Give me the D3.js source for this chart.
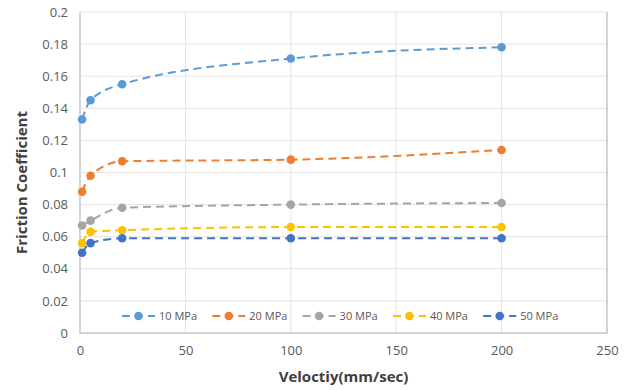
<!DOCTYPE html>
<html><head><meta charset="utf-8">
<script src="https://cdn.jsdelivr.net/npm/d3@7"></script>
<style>body{margin:0;background:#fff}svg{display:block}text{font-family:"Open Sans",Calibri,Arial,sans-serif}</style>
</head><body><svg id="c" width="634" height="390"></svg>
<script>
const velocities = [1, 5, 20, 100, 200];
const seriesNames = ["10 MPa", "20 MPa", "30 MPa", "40 MPa", "50 MPa"];
const s10 = [0.133, 0.145, 0.155, 0.171, 0.178];
const s20 = [0.088, 0.098, 0.107, 0.108, 0.114];
const s30 = [0.067, 0.070, 0.078, 0.080, 0.081];
const s40 = [0.056, 0.063, 0.064, 0.066, 0.066];
const s50 = [0.050, 0.056, 0.059, 0.059, 0.059];
const colors = ["#5B9BD5", "#ED7D31", "#A5A5A5", "#FFC000", "#4472C4"];
const xTicks = [0, 50, 100, 150, 200, 250];
const yTicks = [0, 0.02, 0.04, 0.06, 0.08, 0.1, 0.12, 0.14, 0.16, 0.18, 0.2];
const xTitle = "Veloctiy(mm/sec)";
const yTitle = "Friction Coefficient";

const allSeries = [s10, s20, s30, s40, s50];
const svg = d3.select("#c");
const L = 80, R = 607, T = 12, B = 333;
const x = d3.scaleLinear().domain([0, 250]).range([L, R]);
const y = d3.scaleLinear().domain([0, 0.2]).range([B, T]);

// gridlines
svg.append("g").selectAll("line").data(yTicks).join("line")
  .attr("x1", L).attr("x2", R).attr("y1", d => y(d)).attr("y2", d => y(d))
  .attr("stroke", "#e3e3e3").attr("stroke-width", 1);
svg.append("g").selectAll("line").data(xTicks.slice(1)).join("line")
  .attr("y1", T).attr("y2", B).attr("x1", d => x(d)).attr("x2", d => x(d))
  .attr("stroke", "#e3e3e3").attr("stroke-width", 1);
// plot border (left, bottom, right)
svg.append("path").attr("d", `M${L},${T}V${B}H${R}V${T}`).attr("fill", "none")
  .attr("stroke", "#c9c9c9").attr("stroke-width", 1.5);

// axes labels
const yAxis = d3.axisLeft(y).tickValues(yTicks).tickSize(0).tickPadding(12).tickFormat(d => d3.format("~g")(d));
const ga = svg.append("g").attr("transform", `translate(${L},0)`).call(yAxis);
const xAxis = d3.axisBottom(x).tickValues(xTicks).tickSize(0).tickPadding(13).tickFormat(d3.format("d"));
const gb = svg.append("g").attr("transform", `translate(0,${B})`).call(xAxis);
[ga, gb].forEach(g => { g.select(".domain").remove(); g.selectAll("text").attr("fill", "#595959").style("font-size", "13px").style("font-family", "'Open Sans',sans-serif"); });

svg.append("text").attr("x", (L + R) / 2).attr("y", 382).attr("text-anchor", "middle")
  .attr("font-weight", "bold").attr("font-size", 15).attr("fill", "#404040").text(xTitle);
svg.append("text").attr("transform", `translate(27,${(T + B) / 2 + 10}) rotate(-90)`).attr("text-anchor", "middle")
  .attr("font-weight", "bold").attr("font-size", 15).attr("fill", "#404040").text(yTitle);

// series
const line = d3.line().x((d, i) => x(velocities[i])).y(d => y(d)).curve(d3.curveMonotoneX);
allSeries.forEach((s, k) => {
  svg.append("path").attr("d", line(s)).attr("fill", "none").attr("stroke", colors[k])
    .attr("stroke-width", 2).attr("stroke-dasharray", "8,5");
  svg.append("g").selectAll("circle").data(s).join("circle")
    .attr("cx", (d, i) => x(velocities[i])).attr("cy", d => y(d)).attr("r", 4.3).attr("fill", colors[k]);
});

// legend
const lg = svg.append("g");
seriesNames.forEach((n, k) => {
  const lx = 122 + k * 90.3, ly = 316;
  lg.append("line").attr("x1", lx).attr("x2", lx + 33).attr("y1", ly).attr("y2", ly)
    .attr("stroke", colors[k]).attr("stroke-width", 2).attr("stroke-dasharray", "8,5");
  lg.append("circle").attr("cx", lx + 16.5).attr("cy", ly).attr("r", 4.3).attr("fill", colors[k]);
  lg.append("text").attr("x", lx + 37).attr("y", ly + 4).attr("font-size", 11).attr("fill", "#595959").text(n);
});
</script></body></html>
